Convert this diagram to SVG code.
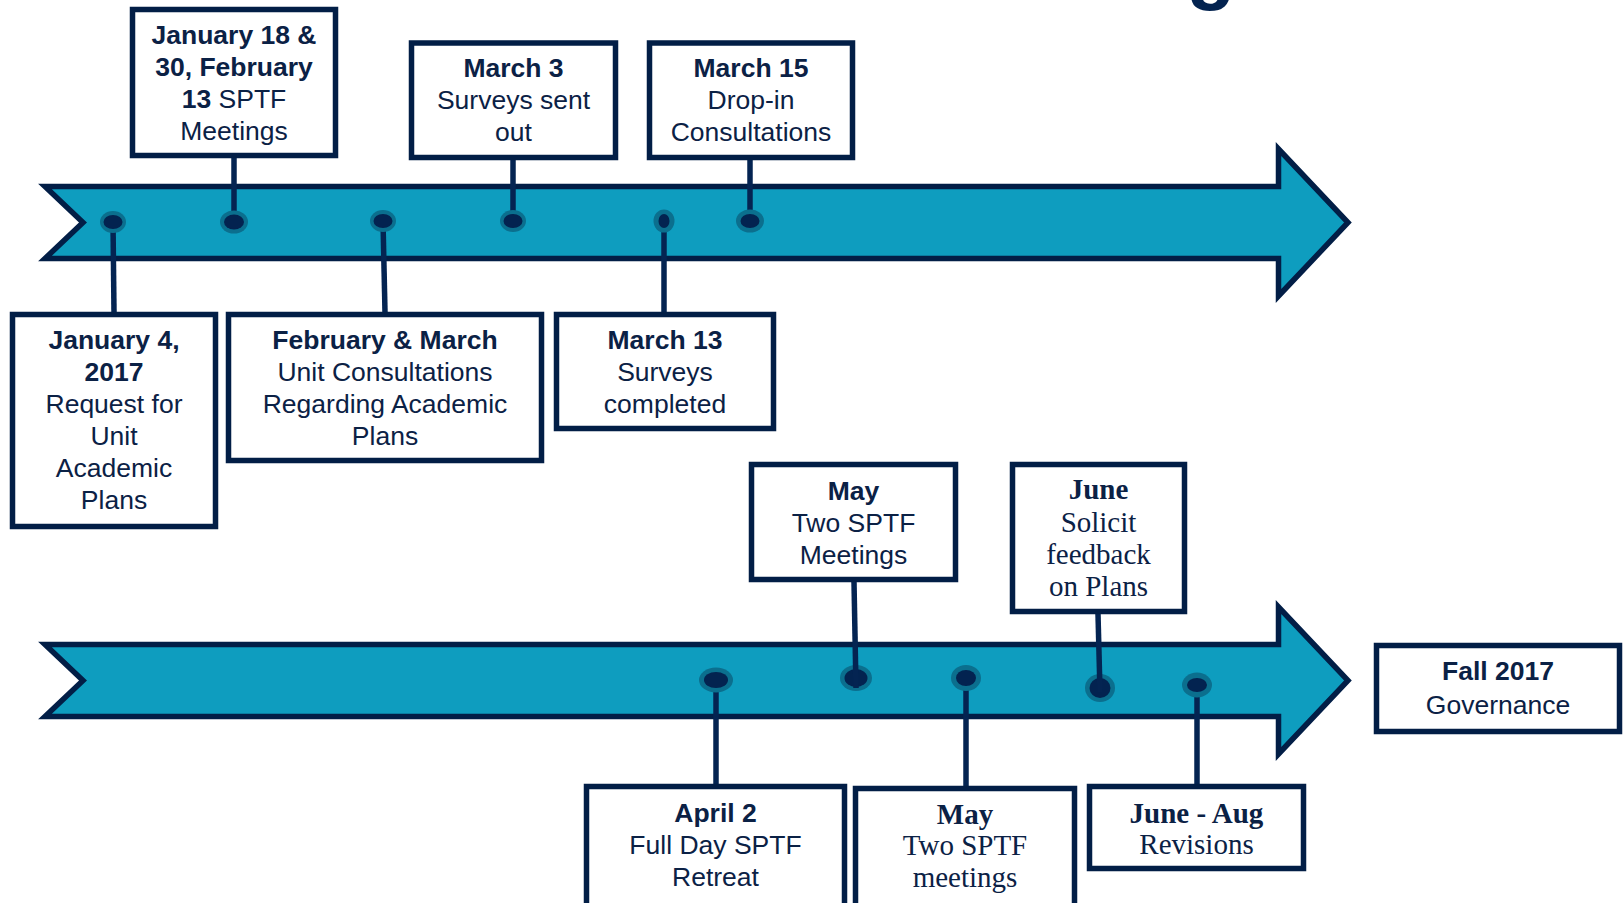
<svg xmlns="http://www.w3.org/2000/svg" width="1623" height="903" viewBox="0 0 1623 903">
<style>
.bg{fill:#ffffff}
.band{fill:#0E9DBF;stroke:#021E46;stroke-width:5.5;stroke-linejoin:miter}
.box{fill:#ffffff;stroke:#021E46;stroke-width:5.5}
.conn{stroke:#042452;stroke-width:5.5;fill:none}
.halo{fill:#0B6F8E}
.dot{fill:#032350}
.t{font-family:"Liberation Sans",Arial,sans-serif;font-size:26.5px;fill:#0B2145;text-anchor:middle}
.s{font-family:"Liberation Serif","Times New Roman",serif;font-size:29px;fill:#0B2145;text-anchor:middle}
.b{font-weight:bold}
</style>
<rect class="bg" x="0" y="0" width="1623" height="903"/>
<text x="1211" y="-6" font-family="Liberation Sans, Arial, sans-serif" font-size="80" font-weight="bold" fill="#032350" text-anchor="middle">g</text>
<g id="timelines">
<polygon class="band" points="45,186.5 1278.5,186.5 1278.5,149 1348,222.5 1278.5,296 1278.5,258.5 45,258.5 83,222.5"/>
<polygon class="band" points="45,644.5 1278.5,644.5 1278.5,607 1348,680.5 1278.5,754 1278.5,716.5 45,716.5 83,680.5"/>
</g>
<g id="connectors">
<line class="conn" x1="234" y1="158" x2="234" y2="222"/>
<line class="conn" x1="513" y1="160" x2="513" y2="221"/>
<line class="conn" x1="750" y1="160" x2="750" y2="221"/>
<line class="conn" x1="113" y1="222" x2="114" y2="312"/>
<line class="conn" x1="383" y1="221" x2="385" y2="312"/>
<line class="conn" x1="664" y1="221" x2="664" y2="312"/>
<line class="conn" x1="716" y1="680" x2="716" y2="784"/>
<line class="conn" x1="966" y1="678" x2="966" y2="786"/>
<line class="conn" x1="1197" y1="685" x2="1197" y2="784"/>
</g>
<g id="dots">
<ellipse class="halo" cx="113" cy="222" rx="13" ry="11"/><ellipse class="dot" cx="113" cy="222" rx="9.5" ry="7"/>
<ellipse class="halo" cx="234" cy="222" rx="14" ry="11.5"/><ellipse class="dot" cx="234" cy="222" rx="10" ry="7.5"/>
<ellipse class="halo" cx="383" cy="221" rx="13" ry="11"/><ellipse class="dot" cx="383" cy="221" rx="9.5" ry="7"/>
<ellipse class="halo" cx="513" cy="221" rx="13" ry="11"/><ellipse class="dot" cx="513" cy="221" rx="9.5" ry="7"/>
<ellipse class="halo" cx="664" cy="221" rx="10.5" ry="11.5"/><ellipse class="dot" cx="664" cy="221" rx="5.5" ry="7"/>
<ellipse class="halo" cx="750" cy="221" rx="14" ry="11.5"/><ellipse class="dot" cx="750" cy="221" rx="9.5" ry="7"/>
<ellipse class="halo" cx="716" cy="680" rx="17" ry="12.5"/><ellipse class="dot" cx="716" cy="680" rx="12" ry="8"/>
<ellipse class="halo" cx="856" cy="678" rx="16" ry="13"/><ellipse class="dot" cx="856" cy="678" rx="11.5" ry="9"/>
<ellipse class="halo" cx="966" cy="678" rx="15" ry="13"/><ellipse class="dot" cx="966" cy="678" rx="10" ry="8"/>
<ellipse class="halo" cx="1100" cy="688" rx="15" ry="14"/><ellipse class="dot" cx="1100" cy="688" rx="10.5" ry="10"/>
<ellipse class="halo" cx="1197" cy="685" rx="15" ry="12.5"/><ellipse class="dot" cx="1197" cy="685" rx="10" ry="7"/>
</g>
<g id="connectors-over">
<line class="conn" x1="854" y1="582" x2="856" y2="688"/>
<line class="conn" x1="1098" y1="614" x2="1100" y2="692"/>
</g>
<g id="n-jan18">
<rect class="box" x="132.5" y="9.5" width="203" height="146"/>
<text class="t b" x="234" y="44">January 18 &amp;</text>
<text class="t b" x="234" y="76">30, February</text>
<text class="t" x="234" y="108"><tspan class="b" font-weight="bold">13</tspan> SPTF</text>
<text class="t" x="234" y="140">Meetings</text>
</g>
<g id="n-mar3">
<rect class="box" x="411.5" y="43" width="204" height="114.5"/>
<text class="t b" x="513.5" y="77">March 3</text>
<text class="t" x="513.5" y="109">Surveys sent</text>
<text class="t" x="513.5" y="141">out</text>
</g>
<g id="n-mar15">
<rect class="box" x="649.5" y="43" width="203" height="114.5"/>
<text class="t b" x="751" y="77">March 15</text>
<text class="t" x="751" y="109">Drop-in</text>
<text class="t" x="751" y="141">Consultations</text>
</g>
<g id="n-jan4">
<rect class="box" x="12.5" y="314.5" width="203" height="212"/>
<text class="t b" x="114" y="348.5">January 4,</text>
<text class="t b" x="114" y="380.6">2017</text>
<text class="t" x="114" y="412.7">Request for</text>
<text class="t" x="114" y="444.8">Unit</text>
<text class="t" x="114" y="476.9">Academic</text>
<text class="t" x="114" y="509">Plans</text>
</g>
<g id="n-febmar">
<rect class="box" x="228.5" y="314.5" width="313" height="146"/>
<text class="t b" x="385" y="348.5">February &amp; March</text>
<text class="t" x="385" y="380.6">Unit Consultations</text>
<text class="t" x="385" y="412.7">Regarding Academic</text>
<text class="t" x="385" y="444.8">Plans</text>
</g>
<g id="n-mar13">
<rect class="box" x="556.5" y="314.5" width="217" height="114"/>
<text class="t b" x="665" y="348.5">March 13</text>
<text class="t" x="665" y="380.6">Surveys</text>
<text class="t" x="665" y="412.7">completed</text>
</g>
<g id="n-may-top">
<rect class="box" x="751.5" y="464.5" width="204" height="115"/>
<text class="t b" x="853.5" y="499.6">May</text>
<text class="t" x="853.5" y="531.7">Two SPTF</text>
<text class="t" x="853.5" y="563.8">Meetings</text>
</g>
<g id="n-june">
<rect class="box" x="1012.5" y="464.5" width="172" height="147"/>
<text class="s b" x="1098.5" y="499">June</text>
<text class="s" x="1098.5" y="532">Solicit</text>
<text class="s" x="1098.5" y="564">feedback</text>
<text class="s" x="1098.5" y="596">on Plans</text>
</g>
<g id="n-fall">
<rect class="box" x="1376.5" y="645.5" width="243" height="86"/>
<text class="t b" x="1498" y="680" font-size="27.5">Fall 2017</text>
<text class="t" x="1498" y="714" font-size="27.5">Governance</text>
</g>
<g id="n-apr2">
<rect class="box" x="586.5" y="786.5" width="258" height="122"/>
<text class="t b" x="715.5" y="821.5">April 2</text>
<text class="t" x="715.5" y="853.6">Full Day SPTF</text>
<text class="t" x="715.5" y="885.7">Retreat</text>
</g>
<g id="n-may-bottom">
<rect class="box" x="855.5" y="788.5" width="219" height="120"/>
<text class="s b" x="965" y="824">May</text>
<text class="s" x="965" y="855">Two SPTF</text>
<text class="s" x="965" y="887">meetings</text>
</g>
<g id="n-junaug">
<rect class="box" x="1089.5" y="786.5" width="214" height="82"/>
<text class="s b" x="1196.5" y="823">June - Aug</text>
<text class="s" x="1196.5" y="854">Revisions</text>
</g>
</svg>
